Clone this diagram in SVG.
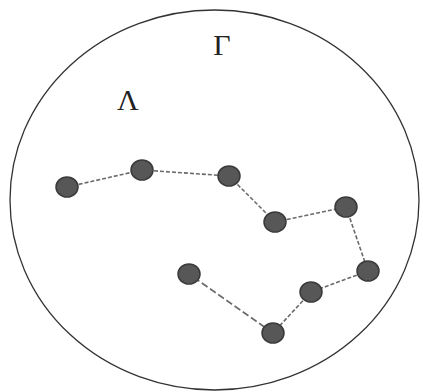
<svg xmlns="http://www.w3.org/2000/svg" width="423" height="392" viewBox="0 0 423 392">
<style>
.n{fill:#575757;stroke:#3a3a3a;stroke-width:1.5}
.e{stroke:#6a6a6a;stroke-width:1.6;stroke-dasharray:4 2;fill:none}
.t{font-family:"Liberation Serif",serif;font-size:30px;fill:#222;text-anchor:middle}
</style>
<rect width="423" height="392" fill="#fff"/>
<ellipse id="region" cx="214.5" cy="200" rx="204.5" ry="190" fill="none" stroke="#333" stroke-width="1.3"/>
<text class="t" x="222" y="55">Γ</text>
<text class="t" x="128" y="110">Λ</text>
<g id="connectors">
<line class="e" x1="67" y1="187" x2="142" y2="170"/>
<line class="e" x1="142" y1="170" x2="229" y2="176"/>
<line class="e" x1="229" y1="176" x2="275" y2="222"/>
<line class="e" x1="275" y1="222" x2="346" y2="207"/>
<line class="e" x1="346" y1="207" x2="368" y2="271"/>
<line class="e" x1="368" y1="271" x2="311" y2="292"/>
<line class="e" x1="311" y1="292" x2="273" y2="333"/>
<line class="e" x1="273" y1="333" x2="189" y2="274" style="stroke-dasharray:7 3"/>
</g>
<g id="n1"><ellipse class="n" cx="67" cy="187" rx="11" ry="10"/></g>
<g id="n2"><ellipse class="n" cx="142" cy="170" rx="11" ry="10"/></g>
<g id="n3"><ellipse class="n" cx="229" cy="176" rx="11" ry="10"/></g>
<g id="n4"><ellipse class="n" cx="275" cy="222" rx="11" ry="10"/></g>
<g id="n5"><ellipse class="n" cx="346" cy="207" rx="11" ry="10"/></g>
<g id="n6"><ellipse class="n" cx="368" cy="271" rx="11" ry="10"/></g>
<g id="n7"><ellipse class="n" cx="311" cy="292" rx="11" ry="10"/></g>
<g id="n8"><ellipse class="n" cx="273" cy="333" rx="11" ry="10"/></g>
<g id="n9"><ellipse class="n" cx="189" cy="274" rx="11" ry="10"/></g>
</svg>
